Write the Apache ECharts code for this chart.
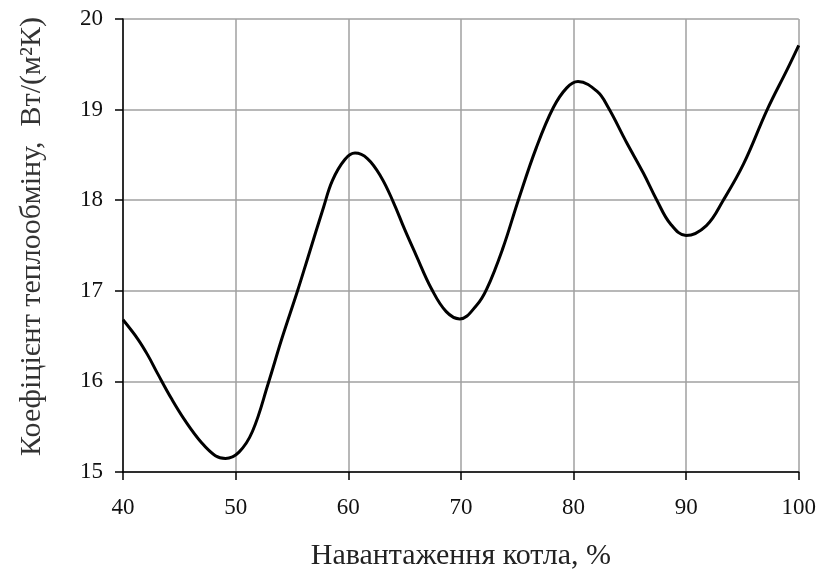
<!DOCTYPE html>
<html>
<head>
<meta charset="utf-8">
<script src="https://cdn.jsdelivr.net/npm/echarts@6/dist/echarts.min.js"></script>
<style>
  html, body { margin: 0; padding: 0; background: #fff; }
  #chart { width: 819px; height: 576px; }
</style>
</head>
<body>
<div id="chart"></div>
<script>
// Load, % (x) and heat transfer coefficient (y)
const loadX = [40, 41.3, 42.2, 43.1, 44.3, 45.5, 47.0, 48.2, 49.1, 50.3, 51.5, 52.9, 54.1, 55.5, 56.4,
  57.8, 58.6, 59.7, 60.6, 61.7, 62.9, 64.0, 65.0, 66.0, 67.4, 68.7, 69.9, 71.4, 72.3, 73.7, 75.1,
  76.7, 78.2, 79.4, 80.4, 82.1, 83.1, 84.7, 86.2, 87.4, 88.6, 90.0, 91.8, 93.3, 95.1, 97.2, 99.0, 100];
const coefY = [16.68, 16.47, 16.29, 16.08, 15.81, 15.57, 15.32, 15.18, 15.15, 15.22, 15.45, 15.98, 16.47, 17.0, 17.36,
  17.92, 18.22, 18.45, 18.52, 18.46, 18.26, 17.98, 17.68, 17.40, 17.02, 16.77, 16.69, 16.84, 17.02, 17.46, 18.0,
  18.58, 19.02, 19.24, 19.31, 19.2, 19.02, 18.64, 18.3, 18.0, 17.74, 17.61, 17.72, 18.0, 18.4, 19.0, 19.45, 19.71];
const xTicks = [40, 50, 60, 70, 80, 90, 100];
const yTicks = [15, 16, 17, 18, 19, 20];

const xTitle = 'Навантаження котла, %';
const yTitle = 'Коефіцієнт теплообміну,  Вт/(м²К)';

const chart = echarts.init(document.getElementById('chart'));
const serif = '"Liberation Serif", "DejaVu Serif", serif';

chart.setOption({
  animation: false,
  grid: { left: 123, right: 18, top: 19, bottom: 102, containLabel: false },
  xAxis: {
    type: 'value',
    min: xTicks[0],
    max: xTicks[xTicks.length - 1],
    interval: 10,
    name: xTitle,
    nameLocation: 'middle',
    nameGap: 69,
    nameTextStyle: { fontFamily: serif, fontSize: 30, color: '#222' },
    axisLine: { lineStyle: { color: '#000', width: 1.5 } },
    axisTick: { show: true, length: 8, inside: false, lineStyle: { color: '#000', width: 1.5 } },
    axisLabel: { fontFamily: serif, fontSize: 23, color: '#111', margin: 24 },
    splitLine: { show: true, lineStyle: { color: '#a0a0a0', width: 1.5 } }
  },
  yAxis: {
    type: 'value',
    min: yTicks[0],
    max: yTicks[yTicks.length - 1],
    interval: 1,
    name: yTitle,
    nameLocation: 'middle',
    nameGap: 76,
    nameRotate: 90,
    nameTextStyle: { fontFamily: serif, fontSize: 30, color: '#333', padding: [0, 0, 0, 18] },
    axisLine: { show: true, lineStyle: { color: '#000', width: 1.5 } },
    axisTick: { show: true, length: 8, inside: false, lineStyle: { color: '#000', width: 1.5 } },
    axisLabel: { fontFamily: serif, fontSize: 23, color: '#111', margin: 20 },
    splitLine: { show: true, lineStyle: { color: '#a0a0a0', width: 1.5 } }
  },
  series: [{
    type: 'line',
    data: loadX.map((x, i) => [x, coefY[i]]),
    smooth: 0.4,
    showSymbol: false,
    lineStyle: { color: '#000', width: 3 }
  }]
});
</script>
</body>
</html>
